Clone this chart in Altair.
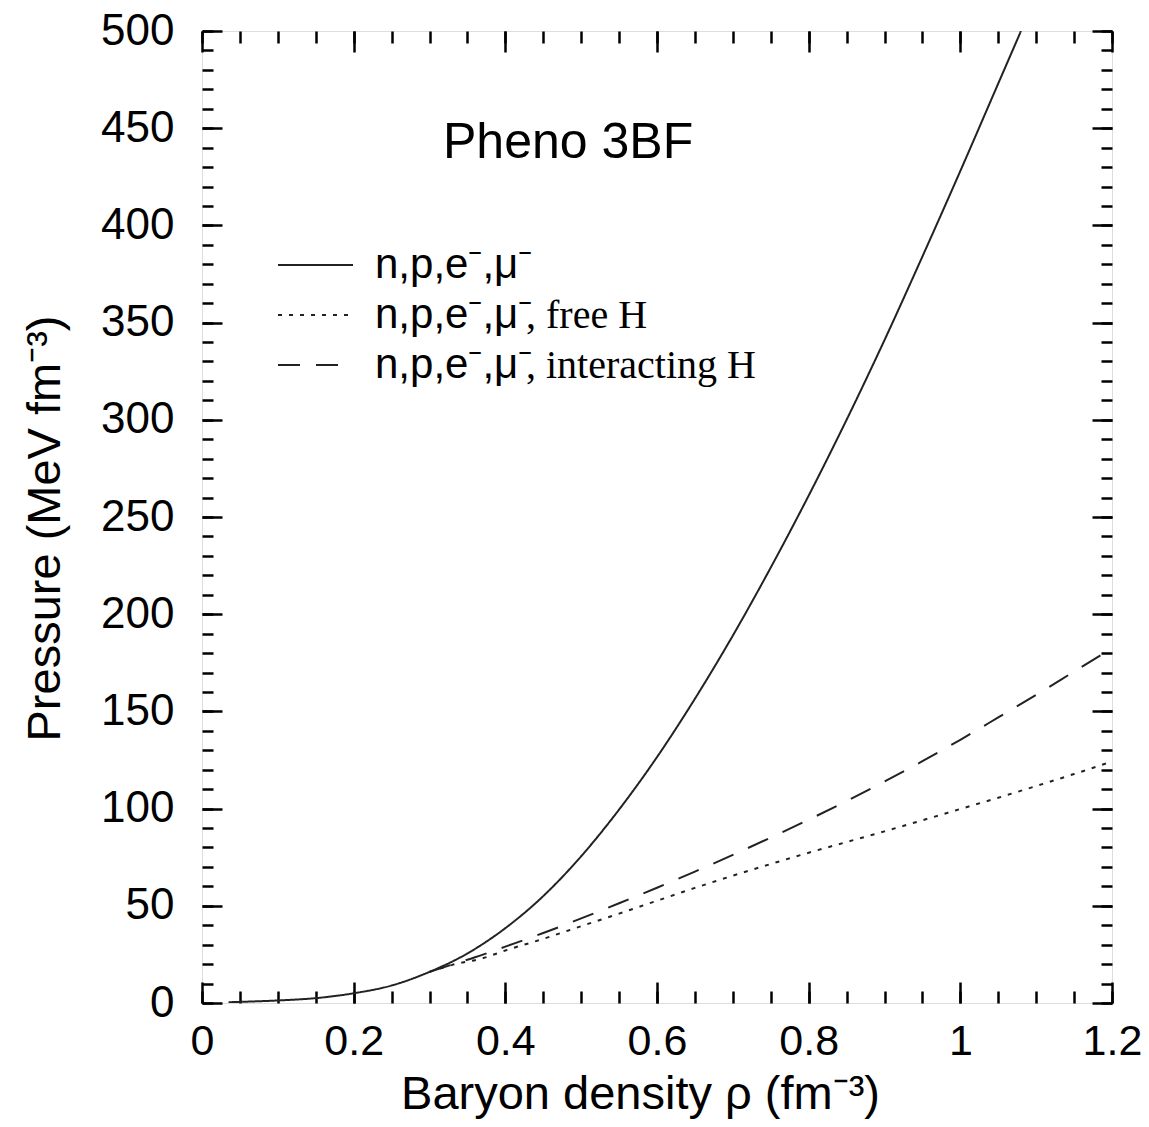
import altair as alt
import pandas as pd

# ---- data ----
rho_plain = [0.035, 0.06, 0.1, 0.15, 0.2, 0.25, 0.3, 0.35, 0.4, 0.45, 0.5, 0.55, 0.6,
             0.65, 0.7, 0.75, 0.8, 0.85, 0.9, 0.95, 1.0, 1.05, 1.08]
p_plain = [0.4, 0.7, 1.3, 2.5, 5.0, 9.0, 16.0, 25.5, 38.5, 55, 75.5, 99.5, 126.5,
           156.5, 189, 224, 261, 300, 341, 384, 428, 473, 500]

rho_free = [0.3, 0.33, 0.37, 0.4, 0.45, 0.5, 0.55, 0.6, 0.65, 0.7, 0.75, 0.8,
            0.85, 0.9, 0.95, 1.0, 1.05, 1.1, 1.15, 1.2]
p_free = [16.0, 19.6, 23, 27, 33, 39.5, 46, 52.6, 59.2, 65.5, 71.5, 77.3,
          82.8, 88.3, 94, 99.8, 105.6, 111.6, 117.8, 124.2]

rho_int = [0.3, 0.33, 0.36, 0.4, 0.45, 0.5, 0.55, 0.6, 0.65, 0.7, 0.75, 0.8,
           0.85, 0.9, 0.95, 1.0, 1.05, 1.1, 1.15, 1.2]
p_int = [16.0, 19.8, 23.5, 29, 36, 43.5, 51.3, 59.3, 67.6, 76.2, 85.1, 94.3,
         103.9, 113.9, 124.4, 135.4, 146.9, 158.5, 170.5, 182.5]

series_keys = ["npem", "npem_free", "npem_int"]
legend_base = "n,p,e\u207b,\u03bc\u207b"
suffix_free = ", free H"
suffix_int = ", interacting H"
title_text = "Pheno 3BF"

x_major = [0, 0.2, 0.4, 0.6, 0.8, 1.0, 1.2]
x_minor = [0, 0.05, 0.1, 0.15, 0.2, 0.25, 0.3, 0.35, 0.4, 0.45, 0.5, 0.55, 0.6,
           0.65, 0.7, 0.75, 0.8, 0.85, 0.9, 0.95, 1.0, 1.05, 1.1, 1.15, 1.2]
y_major = [0, 50, 100, 150, 200, 250, 300, 350, 400, 450, 500]
y_minor = list(range(0, 501, 10))

# ---- build table ----
rows = []
for key, xs, ys in zip(series_keys, [rho_plain, rho_free, rho_int], [p_plain, p_free, p_int]):
    for a, b in zip(xs, ys):
        rows.append({"rho": a, "P": b, "eos": key})
df = pd.DataFrame(rows)

W, H = 910, 972
SANS = "Liberation Sans, Arial, sans-serif"
SERIF = "Liberation Serif, Times New Roman, serif"
LINE = "#222222"

xscale = alt.Scale(domain=[0, 1.2], nice=False, zero=False)
yscale = alt.Scale(domain=[0, 500], nice=False, zero=False)


def tick_axis(orient, values, size, offset):
    return alt.Axis(orient=orient, offset=offset, values=values, tickSize=size,
                    tickWidth=2.5, tickColor="black", ticks=True, labels=False,
                    domain=False, grid=False, title=None)


base = alt.Chart(df)

lines = base.mark_line(strokeWidth=2, color=LINE, clip=True, interpolate="monotone").encode(
    x=alt.X("rho:Q", scale=xscale,
            axis=alt.Axis(orient="bottom", values=x_major, format=".1~f", ticks=False,
                          domain=False, grid=False, labelFont=SANS, labelFontSize=43,
                          labelColor="black", labelPadding=17, labelFlush=False,
                          labelOverlap=False,
                          title="Baryon density \u03c1 (fm\u207b\u00b3)", titleFont=SANS,
                          titleFontSize=47, titleFontWeight="normal", titleColor="black",
                          titleX=438, titleY=105, titleAlign="center",
                          titleBaseline="alphabetic")),
    y=alt.Y("P:Q", scale=yscale,
            axis=alt.Axis(orient="left", values=y_major, format="d", ticks=False,
                          domain=False, grid=False, labelFont=SANS, labelFontSize=44,
                          labelColor="black", labelPadding=28, labelFlush=False,
                          labelOverlap=False,
                          title="Pressure (MeV fm\u207b\u00b3)", titleFont=SANS,
                          titleFontSize=47, titleFontWeight="normal", titleColor="black",
                          titleX=-157, titleY=497, titleAlign="center",
                          titleBaseline="middle", titleAngle=270)),
    strokeDash=alt.StrokeDash(
        "eos:N",
        scale=alt.Scale(domain=series_keys, range=[[1, 0], [4, 7], [22, 16]]),
        legend=alt.Legend(orient="none", legendX=92.5, legendY=213, title=None,
                          direction="vertical",
                          symbolType="M-3,0H3", symbolSize=625, symbolStrokeWidth=2,
                          symbolStrokeColor=LINE, symbolFillColor="transparent",
                          labelExpr="'" + legend_base + "'", labelFont=SANS,
                          labelFontSize=42, labelColor="black", labelOffset=38.5,
                          rowPadding=8, padding=0, labelLimit=0)),
)


def tick_layer(xo, xv, xs, yo, yv, ys, xoff, yoff):
    return base.mark_line(strokeOpacity=0).encode(
        x=alt.X("rho:Q", scale=xscale, axis=tick_axis(xo, xv, xs, xoff)),
        y=alt.Y("P:Q", scale=yscale, axis=tick_axis(yo, yv, ys, yoff)),
    )


t1 = tick_layer("top", x_major, 21, "right", y_major, 20, -H, -W)
t2 = tick_layer("top", x_minor, 12, "right", y_minor, 11, -H, -W)
t3 = tick_layer("bottom", x_major, 21, "left", y_major, 20, -H, -W)
t4 = tick_layer("bottom", x_minor, 12, "left", y_minor, 11, -H, -W)

title_mark = alt.Chart(pd.DataFrame({"t": [title_text]})).mark_text(
    font=SANS, fontSize=50, align="left", baseline="alphabetic", color="black"
).encode(text="t:N", x=alt.value(241), y=alt.value(127))

suf1 = alt.Chart(pd.DataFrame({"t": [suffix_free]})).mark_text(
    font=SERIF, fontSize=40, align="left", baseline="alphabetic", color="black"
).encode(text="t:N", x=alt.value(324), y=alt.value(297))

suf2 = alt.Chart(pd.DataFrame({"t": [suffix_int]})).mark_text(
    font=SERIF, fontSize=40, align="left", baseline="alphabetic", color="black"
).encode(text="t:N", x=alt.value(324), y=alt.value(347))

chart = alt.layer(lines, t1, t2, t3, t4, title_mark, suf1, suf2).resolve_axis(
    x="independent", y="independent"
).properties(
    width=W, height=H,
    autosize=alt.AutoSizeParams(type="none"),
    padding={"left": 194, "top": 23, "right": 29, "bottom": 116},
).configure_view(stroke="black", strokeWidth=3).configure(background="white")

chart.save("out.html", embed_options={"renderer": "svg", "actions": False})
